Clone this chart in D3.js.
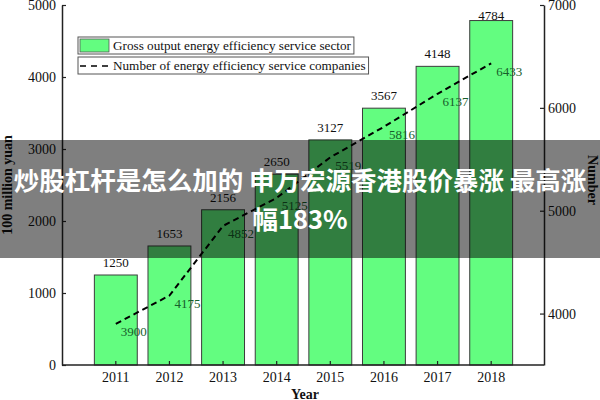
<!DOCTYPE html>
<html>
<head>
<meta charset="utf-8">
<script src="https://cdn.jsdelivr.net/npm/d3@7"></script>
<style>
  html, body { margin: 0; padding: 0; background: #fff; }
  svg { display: block; }
</style>
</head>
<body>
<svg id="chart" width="600" height="400"></svg>
<script>
const years = ["2011", "2012", "2013", "2014", "2015", "2016", "2017", "2018"];
const grossOutput = [1250, 1653, 2156, 2650, 3127, 3567, 4148, 4784];
const companies = [3900, 4175, 4852, 5125, 5519, 5816, 6137, 6433];
const leftTicks = [0, 1000, 2000, 3000, 4000, 5000];
const rightTicks = [4000, 5000, 6000, 7000];
const legendLabels = ["Gross output energy efficiency service sector", "Number of energy efficiency service companies"];
const bannerLines = ["炒股杠杆是怎么加的 申万宏源香港股价暴涨 最高涨", "幅183%"];

(function () {
const svg = d3.select("#chart");
const serif = "'Liberation Serif', 'DejaVu Serif', serif";

const mLeft = 62, mRight = 544, mTop = 5, mBottom = 365;

const x = d3.scaleBand().domain(years).range([89, 518]).paddingInner(0.2).paddingOuter(0.1);
const yL = d3.scaleLinear().domain([0, 5000]).range([mBottom, mTop]);
const yR = d3.scaleLinear().domain([3500, 7000]).range([mBottom, mTop]);

// bars
svg.append("g").selectAll("rect").data(grossOutput).join("rect")
  .attr("x", (d, i) => x(years[i]))
  .attr("y", d => yL(d))
  .attr("width", x.bandwidth())
  .attr("height", d => mBottom - yL(d))
  .attr("fill", "#63fd80")
  .attr("stroke", "#3c3c3c")
  .attr("stroke-width", 1);

// bar labels
svg.append("g").selectAll("text").data(grossOutput).join("text")
  .attr("x", (d, i) => x(years[i]) + x.bandwidth() / 2)
  .attr("y", d => Math.max(yL(d) - 8, 19.5))
  .attr("text-anchor", "middle")
  .attr("font-family", serif)
  .attr("font-size", 13)
  .attr("fill", "#111")
  .text(d => d);

// line
const cx = (i) => x(years[i]) + x.bandwidth() / 2;
const line = d3.line().x((d, i) => cx(i)).y(d => yR(d));
svg.append("path")
  .datum(companies)
  .attr("d", line)
  .attr("fill", "none")
  .attr("stroke", "#000")
  .attr("stroke-width", 2)
  .attr("stroke-dasharray", "6,4");

svg.append("g").selectAll("text").data(companies).join("text")
  .attr("x", (d, i) => cx(i) + 5)
  .attr("y", d => yR(d) + 12.5)
  .attr("font-family", serif)
  .attr("font-size", 13)
  .attr("fill", "#17602b")
  .text(d => d);

// axes
const axisStyle = g => {
  g.selectAll(".domain").attr("stroke", "#222").attr("stroke-width", 1.5);
  g.selectAll(".tick line").attr("stroke", "#222").attr("stroke-width", 1.2);
  g.selectAll(".tick text").attr("font-family", serif).attr("font-size", 14).attr("fill", "#111");
};

svg.append("g").attr("transform", `translate(${mLeft},0)`)
  .call(d3.axisLeft(yL).tickValues(leftTicks).tickSizeInner(-4).tickSizeOuter(0).tickPadding(6).tickFormat(d3.format("d")))
  .call(axisStyle);

svg.append("g").attr("transform", `translate(${mRight},0)`)
  .call(d3.axisRight(yR).tickValues(rightTicks).tickSizeInner(-4).tickSizeOuter(0).tickPadding(4).tickFormat(d3.format("d")))
  .call(axisStyle);

const xAxisG = svg.append("g").attr("transform", `translate(0,${mBottom})`)
  .call(d3.axisBottom(x).tickSizeInner(-4).tickSizeOuter(0).tickPadding(7))
  .call(axisStyle);
xAxisG.select(".domain").attr("d", `M${mLeft},0H${mRight}`);

// axis titles
svg.append("text")
  .attr("transform", `translate(12,185) rotate(-90)`)
  .attr("text-anchor", "middle")
  .attr("font-family", serif).attr("font-size", 14).attr("font-weight", "bold")
  .attr("fill", "#111")
  .text("100 million yuan");

svg.append("text")
  .attr("transform", `translate(588,180) rotate(90)`)
  .attr("text-anchor", "middle")
  .attr("font-family", serif).attr("font-size", 14).attr("font-weight", "bold")
  .attr("fill", "#111")
  .text("Number");

svg.append("text")
  .attr("x", 305).attr("y", 399)
  .attr("text-anchor", "middle")
  .attr("font-family", serif).attr("font-size", 14).attr("font-weight", "bold")
  .attr("fill", "#111")
  .text("Year");

// legend
const legendRows = [{ y: 37, type: "bar" }, { y: 57, type: "line" }];
legendRows.forEach((r, i) => {
  const g = svg.append("g");
  const box = g.append("rect")
    .attr("x", 78).attr("y", r.y).attr("height", 17)
    .attr("fill", "#fff").attr("stroke", "#555").attr("stroke-width", 1);
  if (r.type === "bar") {
    g.append("rect").attr("x", 80).attr("y", r.y + 2).attr("width", 29).attr("height", 13)
      .attr("fill", "#63fd80").attr("stroke", "#555").attr("stroke-width", 0.8);
  } else {
    g.append("line").attr("x1", 80).attr("x2", 110).attr("y1", r.y + 9).attr("y2", r.y + 9)
      .attr("stroke", "#000").attr("stroke-width", 1.3).attr("stroke-dasharray", "6,5");
  }
  const t = g.append("text")
    .attr("x", 113).attr("y", r.y + 13)
    .attr("font-family", serif).attr("font-size", 13.2).attr("fill", "#111")
    .text(legendLabels[i]);
  const w = t.node().getComputedTextLength();
  box.attr("width", 113 + w + 3 - 78);
});

// overlay banner
svg.append("rect")
  .attr("x", 0).attr("y", 140).attr("width", 600).attr("height", 118)
  .attr("fill", "rgba(0,0,0,0.5)");

svg.append("g").selectAll("text").data(bannerLines).join("text")
  .attr("x", 300)
  .attr("y", (d, i) => 190 + i * 39)
  .attr("text-anchor", "middle")
  .attr("font-family", "'Noto Sans CJK SC', sans-serif")
  .attr("font-size", 25.5)
  .attr("font-weight", "bold")
  .attr("fill", "#fff")
  .text(d => d);
})();
</script>
</body>
</html>
